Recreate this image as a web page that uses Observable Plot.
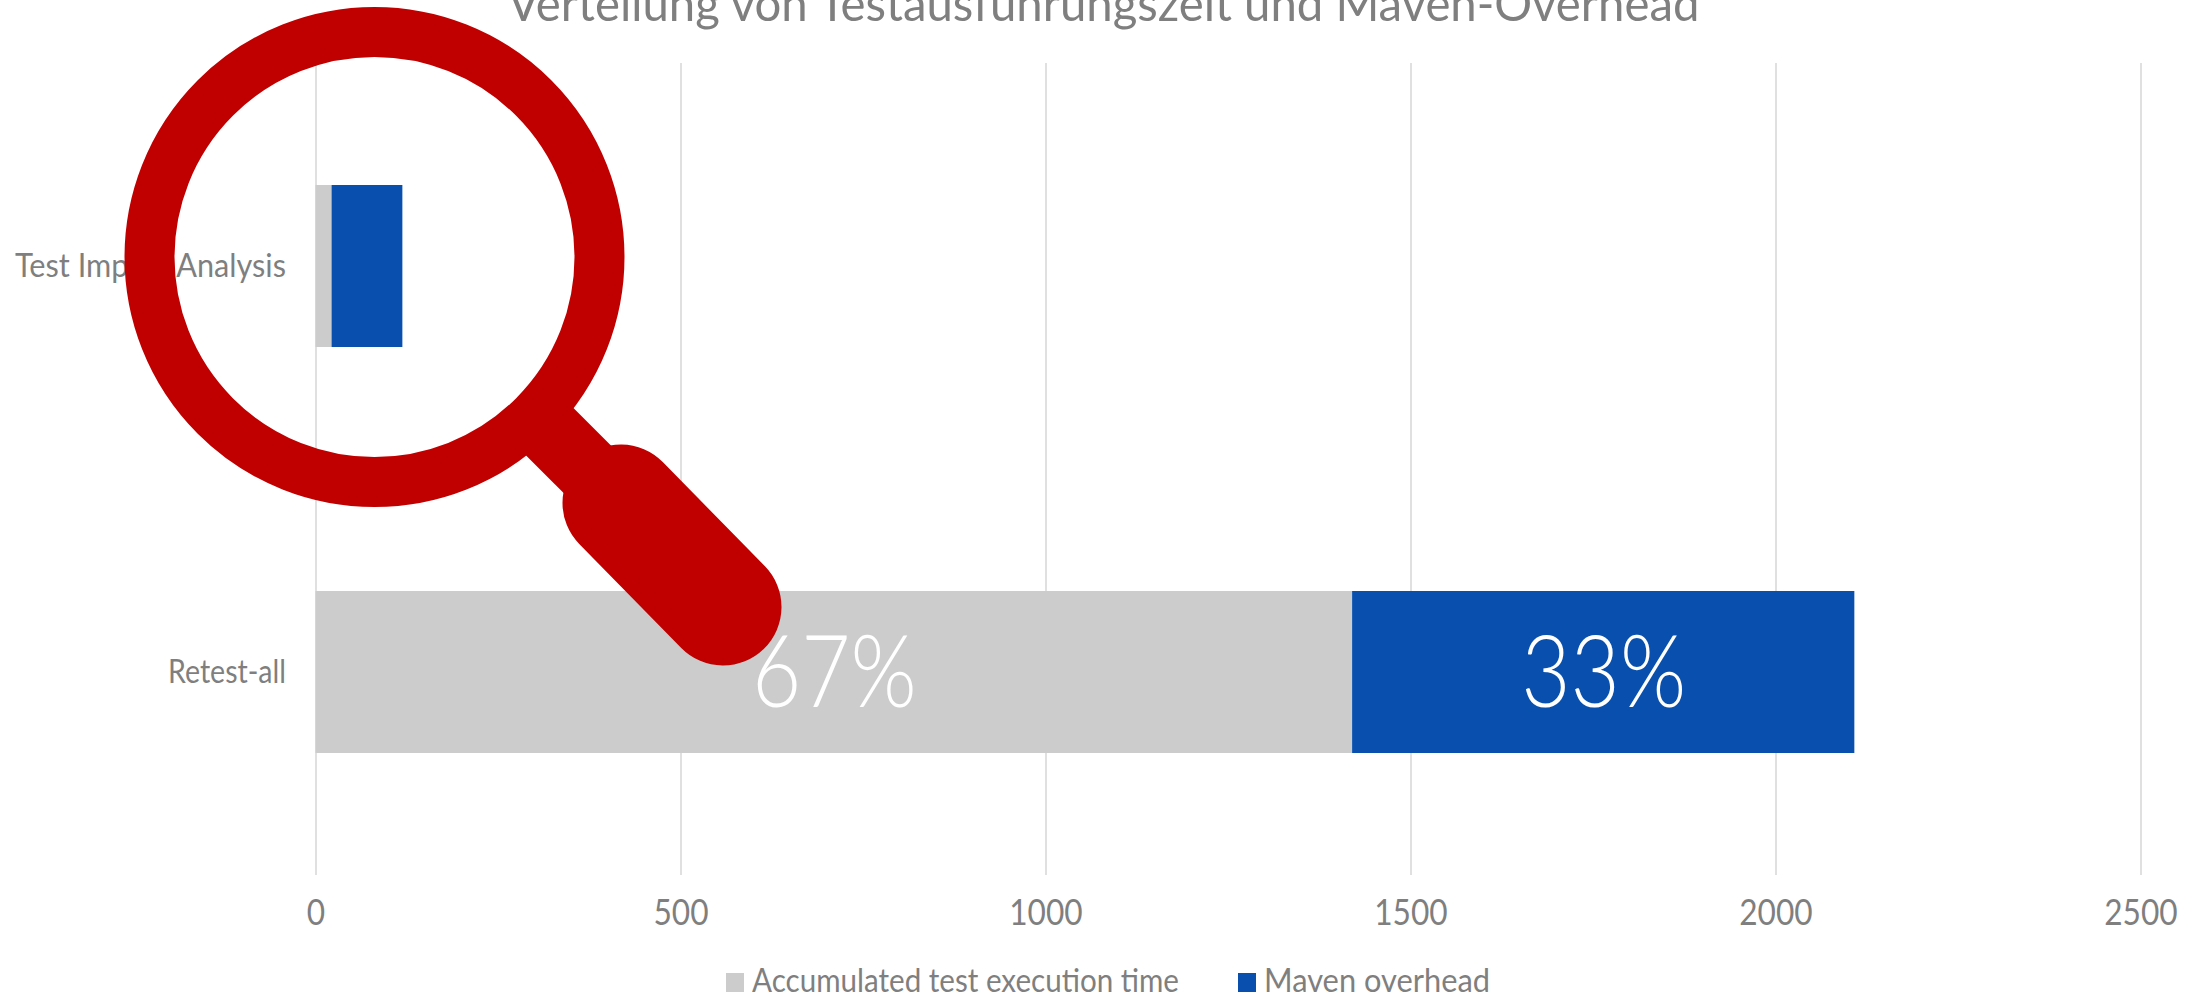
<!doctype html>
<html><head><meta charset="utf-8">
<script src="https://cdn.jsdelivr.net/npm/d3@7"></script>
<script src="https://cdn.jsdelivr.net/npm/@observablehq/plot@0.6"></script>
<style>
html,body{margin:0;padding:0;background:#fff;width:2206px;height:1000px;overflow:hidden;position:relative;font-family:Lato,sans-serif;font-weight:400;color:#7f7f7f}
#title{position:absolute;left:0;width:2206px;top:-28px;line-height:60px;text-align:center;font-size:49px;white-space:nowrap}
#title span,#legend span.t{display:inline-block;transform-origin:center}
#legend{position:absolute;left:0;top:960px;height:40px;width:2206px}
#legend i{position:absolute;top:13px;width:18px;height:19px}
#legend span.t{position:absolute;top:0;line-height:40px;font-size:32px;white-space:nowrap;transform-origin:left center}
svg{display:block}
</style></head>
<body>
<div id="title"><span>Verteilung von Testausführungszeit und Maven-Overhead</span></div>
<div id="chart"></div>
<div id="legend"></div>
<script>
const categories = ["Test Impact Analysis", "Retest-all"];
const seriesNames = ["Accumulated test execution time", "Maven overhead"];
const testTime = [22, 1420];
const mavenOverhead = [97, 688];
const percentLabels = [[null, "67%"], [null, "33%"]];
const xTicks = [0, 500, 1000, 1500, 2000, 2500];
const seriesColors = ["#cccccc", "#0950ae"];

const rows = categories.flatMap((c, i) => [
  {cat: c, series: seriesNames[0], value: testTime[i], label: percentLabels[0][i]},
  {cat: c, series: seriesNames[1], value: mavenOverhead[i], label: percentLabels[1][i]}
]);

// decorative magnifying-glass overlay (not data)
function magnifier() {
  const g = d3.create("svg:g").attr("aria-label", "magnifier");
  g.append("line").attr("x1", 545).attr("y1", 427).attr("x2", 610).attr("y2", 492)
    .attr("stroke", "#c00000").attr("stroke-width", 67);
  g.append("line").attr("x1", 621).attr("y1", 503).attr("x2", 723).attr("y2", 607)
    .attr("stroke", "#c00000").attr("stroke-width", 117).attr("stroke-linecap", "round");
  g.append("circle").attr("cx", 374.5).attr("cy", 257).attr("r", 225)
    .attr("fill", "none").attr("stroke", "#c00000").attr("stroke-width", 50);
  return g.node();
}

const chart = Plot.plot({
  width: 2206, height: 960,
  marginLeft: 315.5, marginRight: 65.5, marginTop: 63, marginBottom: 85,
  style: {background: "#fff", fontFamily: "Lato, sans-serif", fontWeight: 400, color: "#7f7f7f"},
  x: {domain: [0, 2500], ticks: xTicks, label: null, tickFormat: "d"},
  y: {domain: categories, label: null, paddingInner: 0.6, paddingOuter: 0.3},
  color: {domain: seriesNames, range: seriesColors},
  marks: [
    Plot.ruleX(xTicks, {stroke: "#e0e0e0", strokeWidth: 2}),
    Plot.barX(rows, Plot.stackX({x: "value", y: "cat", fill: "series", order: null})),
    Plot.text(rows, Plot.stackX({x: "value", y: "cat", z: "cat", order: null, text: "label", fill: "#fff", fontSize: 100, fontWeight: 300, dy: 2})),
    Plot.axisX({ticks: xTicks, tickFormat: "d", tickSize: 0, tickPadding: 24, fontSize: 36, color: "#7f7f7f", label: null}),
    Plot.axisY({tickSize: 0, tickPadding: 30, fontSize: 33, color: "#7f7f7f", label: null}),
    magnifier
  ]
});
document.getElementById("chart").append(chart);

// narrow the text to the reference's condensed geometric face
function squeeze(sel, k) {
  chart.querySelectorAll(sel).forEach(t => {
    if (!t.textContent) return;
    const w = t.getComputedTextLength();
    t.setAttribute("lengthAdjust", "spacingAndGlyphs");
    t.setAttribute("textLength", typeof k === "function" ? k(t.textContent) : w * k);
  });
}
const yLabelWidths = new Map([[categories[0], 271], [categories[1], 118]]);
squeeze('[aria-label="x-axis tick label"] text', 0.88);
squeeze('[aria-label="y-axis tick label"] text', s => yLabelWidths.get(s));
squeeze('[aria-label="text"] text', 0.85);

const legend = document.getElementById("legend");
const legendLeft = [726, 1238];
seriesNames.forEach((s, i) => {
  const sw = document.createElement("i");
  sw.style.left = legendLeft[i] + "px"; sw.style.background = seriesColors[i];
  const t = document.createElement("span");
  t.className = "t"; t.textContent = s; t.style.left = (legendLeft[i] + 26) + "px";
  legend.append(sw, t);
});
const targetW = [427, 226];
legend.querySelectorAll("span.t").forEach((t, i) => {
  t.style.transform = `scaleX(${targetW[i] / t.getBoundingClientRect().width})`;
});
const ts = document.querySelector("#title span");
ts.style.transform = `scaleX(${1192 / ts.getBoundingClientRect().width})`;
</script>
</body></html>
